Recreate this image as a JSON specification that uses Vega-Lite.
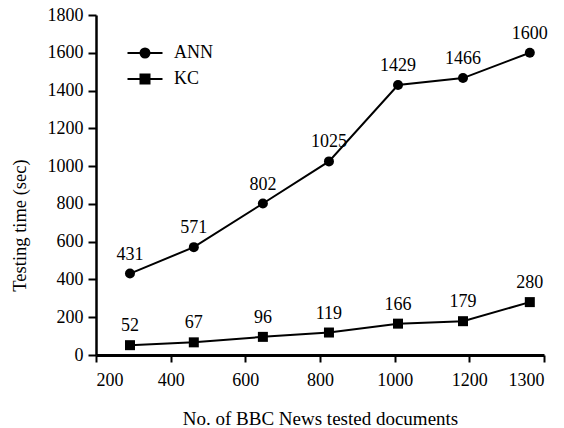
{
  "$schema": "https://vega.github.io/schema/vega-lite/v6.json",
  "width": 448,
  "height": 340,
  "autosize": "none",
  "padding": {"left": 96, "top": 15, "right": 20, "bottom": 73},
  "background": "white",
  "config": {
    "view": {"stroke": null},
    "font": "Liberation Serif",
    "axis": {"grid": false, "domainColor": "black", "tickColor": "black", "labelColor": "black", "titleColor": "black", "labelFont": "Liberation Serif", "titleFont": "Liberation Serif", "titleFontWeight": "normal"},
    "legend": {"labelFont": "Liberation Serif"}
  },
  "data": {
    "values": [
      {"docs": 291, "time": 431, "method": "ANN"},
      {"docs": 462, "time": 571, "method": "ANN"},
      {"docs": 647, "time": 802, "method": "ANN"},
      {"docs": 824, "time": 1025, "method": "ANN"},
      {"docs": 1009, "time": 1429, "method": "ANN"},
      {"docs": 1183, "time": 1466, "method": "ANN"},
      {"docs": 1362, "time": 1600, "method": "ANN"},
      {"docs": 291, "time": 52, "method": "KC"},
      {"docs": 462, "time": 67, "method": "KC"},
      {"docs": 647, "time": 96, "method": "KC"},
      {"docs": 824, "time": 119, "method": "KC"},
      {"docs": 1009, "time": 166, "method": "KC"},
      {"docs": 1183, "time": 179, "method": "KC"},
      {"docs": 1362, "time": 280, "method": "KC"}
    ]
  },
  "encoding": {
    "x": {
      "field": "docs", "type": "quantitative",
      "scale": {"domain": [200, 1400], "nice": false},
      "axis": {
        "title": "No. of BBC News tested documents",
        "values": [200, 400, 600, 800, 1000, 1200, 1400],
        "labelExpr": "datum.value == 1400 ? '1300' : datum.label",
        "format": "d",
        "domainWidth": 3, "tickWidth": 2, "tickSize": 7,
        "labelFontSize": 18, "labelPadding": 9,
        "titleFontSize": 19, "titlePadding": 20
      }
    },
    "y": {
      "field": "time", "type": "quantitative",
      "scale": {"domain": [0, 1800], "nice": false},
      "axis": {
        "title": "Testing time (sec)",
        "values": [0, 200, 400, 600, 800, 1000, 1200, 1400, 1600, 1800],
        "format": "d",
        "domainWidth": 2.5, "tickWidth": 2, "tickSize": 8,
        "labelFontSize": 18, "labelPadding": 5,
        "titleFontSize": 18.5, "titleX": -67, "titleY": 210
      }
    }
  },
  "resolve": {"scale": {"shape": "independent"}, "legend": {"shape": "independent"}},
  "layer": [
    {
      "mark": {"type": "line", "color": "black", "strokeWidth": 2},
      "encoding": {"detail": {"field": "method"}}
    },
    {
      "mark": {"type": "point", "filled": true, "color": "black", "opacity": 1, "size": 100},
      "encoding": {
        "shape": {
          "field": "method", "type": "nominal",
          "scale": {"domain": ["ANN", "KC"], "range": ["circle", "square"]},
          "legend": null
        }
      }
    },
    {
      "mark": {"type": "text", "color": "black", "dy": -19, "fontSize": 18, "font": "Liberation Serif", "baseline": "middle"},
      "encoding": {"text": {"field": "time", "type": "quantitative", "format": "d"}}
    },
    {
      "transform": [{"filter": "false"}],
      "mark": {"type": "point", "filled": false, "color": "black", "opacity": 1, "strokeWidth": 2},
      "encoding": {
        "shape": {
          "field": "method", "type": "nominal",
          "scale": {"domain": ["ANN", "KC"], "range": [
            "M-1.75,0L1.75,0M-0.45,0A0.45,0.45 0 1,1 0.45,0A0.45,0.45 0 1,1 -0.45,0M-0.27,0A0.27,0.27 0 1,1 0.27,0A0.27,0.27 0 1,1 -0.27,0M-0.1,0A0.1,0.1 0 1,1 0.1,0A0.1,0.1 0 1,1 -0.1,0",
            "M-1.75,0L1.75,0M-0.45,-0.45L0.45,-0.45L0.45,0.45L-0.45,0.45ZM-0.27,-0.27L0.27,-0.27L0.27,0.27L-0.27,0.27ZM-0.1,-0.1L0.1,-0.1L0.1,0.1L-0.1,0.1Z"
          ]},
          "legend": {
            "title": null,
            "orient": "none",
            "legendX": 38,
            "legendY": 27,
            "symbolSize": 400,
            "symbolStrokeColor": "black",
            "symbolStrokeWidth": 2,
            "symbolOpacity": 1,
            "labelFontSize": 18,
            "labelColor": "black",
            "labelOffset": 18,
            "rowPadding": 6,
            "encode": {
              "symbols": {
                "stroke": {"value": "black"},
                "strokeWidth": {"value": 2},
                "fill": {"value": "black"}
              }
            }
          }
        }
      }
    }
  ]
}
